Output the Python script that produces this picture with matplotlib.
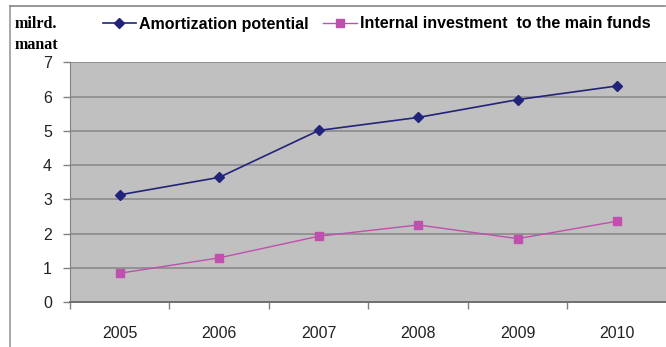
"""Line chart of amortization potential against internal investment, 2005-2010."""

import matplotlib.pyplot as plt
from matplotlib.lines import Line2D

years = ["2005", "2006", "2007", "2008", "2009", "2010"]
amortization = [3.13, 3.64, 5.01, 5.39, 5.91, 6.31]
internal_investment = [0.84, 1.29, 1.92, 2.25, 1.85, 2.36]

NAVY = "#22237A"
PINK = "#C04FAE"

plt.rcParams["font.family"] = ["Liberation Sans", "DejaVu Sans"]

W, H = 666, 347
fig = plt.figure(figsize=(W / 100, H / 100), dpi=100)

# outer chart frame (only left and top edges fall inside the image)
frame_x, frame_y = 10.5 / W, 1 - 5.5 / H
fig.add_artist(Line2D([frame_x, frame_x], [0.0, frame_y],
                      transform=fig.transFigure, color="#999999", linewidth=1.2))
fig.add_artist(Line2D([frame_x, 0.999], [frame_y, frame_y],
                      transform=fig.transFigure, color="#8f8f8f", linewidth=1.3))

left, right, top, bottom = 70, 667, 62.3, 302
ax = fig.add_axes([left / W, 1 - bottom / H, (right - left) / W, (bottom - top) / H])
ax.set_facecolor("#C0C0C0")

x = [i + 0.5 for i in range(len(years))]
ax.plot(x, amortization, color=NAVY, linewidth=1.2, marker="D", markersize=5.5,
        label="Amortization potential")
ax.plot(x, internal_investment, color=PINK, linewidth=1.0, marker="s", markersize=6,
        label="Internal investment  to the main funds")

ax.set_xlim(0, len(years))
ax.set_ylim(0, 7)
ax.set_yticks(range(8))
ax.yaxis.grid(True, color="#8a8a8a", linewidth=1.2)
ax.set_axisbelow(True)

ax.set_xticks(range(len(years) + 1))
ax.set_xticklabels([])
ax.set_xticks(x, minor=True)
ax.set_xticklabels(years, minor=True)
ax.tick_params(axis="x", which="major", length=5, color="#808080", width=1)
ax.tick_params(axis="x", which="minor", length=0, pad=17, labelsize=11.5, labelcolor="#222222")
ax.tick_params(axis="y", length=5, color="#808080", width=1, pad=8,
               labelsize=11.5, labelcolor="#222222")

for side in ("top", "right"):
    ax.spines[side].set_visible(False)
ax.spines["left"].set_color("#808080")
ax.spines["bottom"].set_color("#707070")
ax.spines["bottom"].set_linewidth(1.4)

fig.text(15 / W, 1 - 34.5 / H, "milrd.\nmanat", family="Liberation Serif", fontweight="bold",
         fontsize=11.5, linespacing=1.35, va="center", ha="left")

fig.legend(loc="center left", bbox_to_anchor=(102.5 / W, 1 - 24 / H), ncol=2, frameon=False,
           prop={"weight": "bold", "size": 11.5}, handlelength=2.1, handletextpad=0.2,
           columnspacing=0.9, borderpad=0, borderaxespad=0)

fig.savefig("out.png", dpi=100)
